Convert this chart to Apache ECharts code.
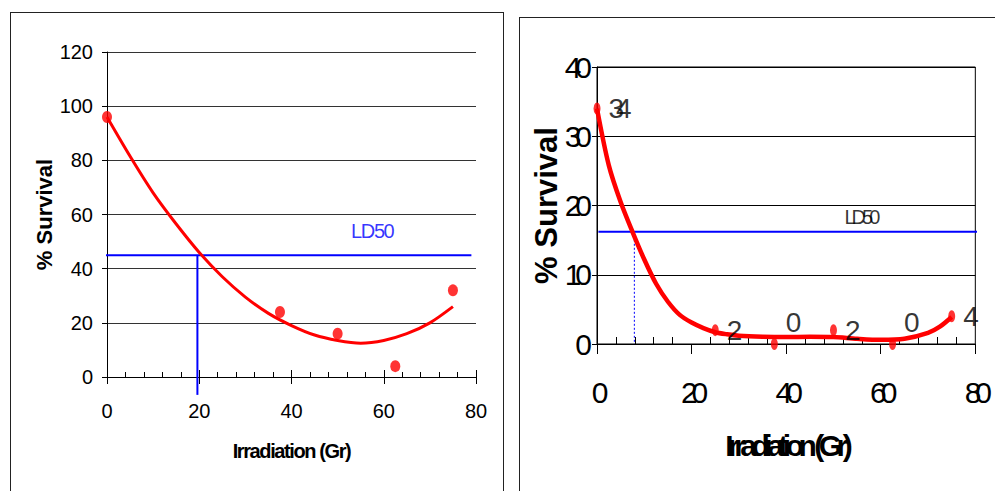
<!DOCTYPE html>
<html>
<head>
<meta charset="utf-8">
<script src="https://cdn.jsdelivr.net/npm/echarts@6/dist/echarts.min.js"></script>
<style>
  html, body { margin: 0; padding: 0; background: #fff; overflow: hidden; }
  .frame { position: absolute; box-sizing: border-box; border: 1px solid #222; }
  #chart { position: absolute; left: 0; top: 0; width: 995px; height: 491px; }
  /* the reference uses squeezed type; the svg text picks up tighter tracking by family tag */
  #chart text[style*="TightA"] { letter-spacing: -1.4px; }
  #chart text[style*="TightB"] { letter-spacing: -4px; }
  #chart text[style*="TightC"] { letter-spacing: -5.5px; }
  #chart text[style*="TightD"] { letter-spacing: -6px; }
  #chart text[style*="TightE"] { letter-spacing: -8px; }
</style>
</head>
<body>
<div class="frame" style="left:10px;top:12px;width:494px;height:600px"></div>
<div class="frame" style="left:519px;top:17px;width:600px;height:600px"></div>
<div id="chart"></div>
<script>
// left panel: measured survival and fitted curve
const leftDose = [0, 37.5, 50, 62.5, 75];
const leftSurvival = [96, 24, 16, 4, 32];
const leftFitDose = [0, 5, 10, 15, 20, 25, 30, 35, 40, 45, 50, 55, 60, 65, 70, 75];
const leftFitSurvival = [96, 81.5, 68, 56.5, 46, 37, 29.5, 23.5, 19, 15.5, 13.5, 12.5, 13.5, 16, 20, 26];
const leftLd50 = [19.6, 45];

// right panel
const rightDose = [0, 25, 37.5, 50, 62.5, 75];
const rightSurvival = [34, 2, 0, 2, 0, 4];
const rightFitDose = [0, 2.5, 5, 7.5, 10, 12.5, 15, 17.5, 20, 22.5, 25, 27.5, 30, 35, 40, 45, 50, 55, 60, 65, 70, 72.5, 75];
const rightFitSurvival = [34, 25.8, 20.5, 16.2, 12.2, 8.7, 6.1, 4.2, 3.1, 2.3, 1.7, 1.4, 1.2, 1.05, 1.0, 1.05, 1.0, 0.75, 0.6, 0.75, 1.6, 2.5, 3.9];
const rightLd50 = [7.9, 16.2];

const zip = (xs, ys) => xs.map((x, i) => [x, ys[i]]);
const sans = "'Liberation Sans', Arial, sans-serif";
const tight = (tag) => "'" + tag + "', 'Liberation Sans', Arial, sans-serif";

const chart = echarts.init(document.getElementById('chart'), null, { renderer: 'svg' });

chart.setOption({
  animation: false,
  grid: [
    { left: 107, top: 52, width: 369, height: 325 },
    { left: 597, top: 67, width: 385, height: 277, show: true, borderColor: '#000', borderWidth: 1, backgroundColor: 'transparent' }
  ],
  xAxis: [
    {
      gridIndex: 0, type: 'value', min: 0, max: 80, interval: 20, position: 'bottom',
      axisLine: { lineStyle: { color: '#000', width: 1 } },
      axisTick: { show: true, inside: false, length: 7, lineStyle: { color: '#000' } },
      axisLabel: { color: '#000', fontFamily: sans, fontSize: 20, margin: 24 },
      splitLine: { show: false },
      name: 'Irradiation (Gr)', nameLocation: 'middle', nameGap: 64,
      nameTextStyle: { color: '#000', fontFamily: tight('TightA'), fontSize: 20, fontWeight: 'bold' }
    },
    {
      gridIndex: 0, type: 'value', min: 0, max: 80, interval: 20, position: 'bottom',
      axisLine: { show: false },
      axisTick: { show: true, inside: true, length: 7, lineStyle: { color: '#000' } },
      minorTick: { show: true, splitNumber: 5, length: 5, lineStyle: { color: '#000' } },
      axisLabel: { show: false }, splitLine: { show: false }
    },
    {
      gridIndex: 1, type: 'value', min: 0, max: 80, interval: 20, position: 'bottom',
      axisLine: { lineStyle: { color: '#000', width: 1 } },
      axisTick: { show: true, inside: false, length: 10, lineStyle: { color: '#000' } },
      axisLabel: { color: '#000', fontFamily: tight('TightD'), fontSize: 30, margin: 33 },
      splitLine: { show: false },
      name: 'Irradiation (Gr)', nameLocation: 'middle', nameGap: 86,
      nameTextStyle: { color: '#000', fontFamily: tight('TightC'), fontSize: 30, fontWeight: 'bold' }
    },
    {
      gridIndex: 1, type: 'value', min: 0, max: 80, interval: 20, position: 'bottom',
      axisLine: { show: false },
      axisTick: { show: true, inside: true, length: 1, lineStyle: { color: '#000', opacity: 0 } },
      minorTick: { show: true, splitNumber: 5, length: 7, lineStyle: { color: '#000' } },
      axisLabel: { show: false }, splitLine: { show: false }
    }
  ],
  yAxis: [
    {
      gridIndex: 0, type: 'value', min: 0, max: 120, interval: 20,
      axisLine: { show: true, lineStyle: { color: '#000', width: 1 } },
      axisTick: { show: true, length: 5, lineStyle: { color: '#000' } },
      axisLabel: { color: '#000', fontFamily: sans, fontSize: 20, margin: 14 },
      splitLine: { show: true, lineStyle: { color: '#333', width: 1 } },
      name: '% Survival', nameLocation: 'middle', nameGap: 51,
      nameTextStyle: { color: '#000', fontFamily: sans, fontSize: 22, fontWeight: 'bold' }
    },
    {
      gridIndex: 1, type: 'value', min: 0, max: 40, interval: 10,
      axisLine: { show: true, lineStyle: { color: '#000', width: 1 } },
      axisTick: { show: true, length: 5, lineStyle: { color: '#000' } },
      axisLabel: { color: '#000', fontFamily: tight('TightD'), fontSize: 30, margin: 11 },
      splitLine: { show: true, lineStyle: { color: '#000', width: 1 } },
      name: '% Survival', nameLocation: 'middle', nameGap: 35, nameMoveOverlap: false,
      nameTextStyle: { color: '#000', fontFamily: sans, fontSize: 31, fontWeight: 'bold' }
    }
  ],
  series: [
    // left panel
    {
      type: 'line', xAxisIndex: 0, yAxisIndex: 0, data: zip(leftFitDose, leftFitSurvival),
      smooth: 0.3, symbol: 'none', lineStyle: { color: '#ff0000', width: 3 }, z: 3
    },
    {
      type: 'scatter', xAxisIndex: 0, yAxisIndex: 0, data: zip(leftDose, leftSurvival),
      symbol: 'circle', symbolSize: [10, 12], itemStyle: { color: '#ff0000' }, z: 4
    },
    {
      type: 'line', xAxisIndex: 0, yAxisIndex: 0, clip: false, symbol: 'none',
      data: [[-1, leftLd50[1]], [79, leftLd50[1]]], lineStyle: { color: '#0000ff', width: 2 }, z: 2
    },
    {
      type: 'line', xAxisIndex: 0, yAxisIndex: 0, clip: false, symbol: 'none',
      data: [[leftLd50[0], leftLd50[1]], [leftLd50[0], -6.6]], lineStyle: { color: '#0000ff', width: 2 }, z: 2
    },
    {
      type: 'scatter', xAxisIndex: 0, yAxisIndex: 0, data: [[57.5, 54]], symbolSize: 0, silent: true,
      label: { show: true, position: 'inside', formatter: 'LD50', color: '#0000ff', fontFamily: tight('TightA'), fontSize: 20 }
    },
    // right panel
    {
      type: 'line', xAxisIndex: 2, yAxisIndex: 1, data: zip(rightFitDose, rightFitSurvival),
      smooth: 0.3, symbol: 'none', lineStyle: { color: '#ff0000', width: 4.5 }, z: 3
    },
    {
      type: 'scatter', xAxisIndex: 2, yAxisIndex: 1, clip: false,
      data: zip(rightDose, rightSurvival).map(p => ({
        value: p,
        label: { offset: [0, p[1] === 0 ? -22 : 0] }
      })),
      symbol: 'circle', symbolSize: [7, 12], itemStyle: { color: '#ff0000' }, z: 4,
      label: {
        show: true, position: 'right', distance: 8, formatter: (p) => String(p.value[1]),
        color: '#000', fontFamily: tight('TightE'), fontSize: 28
      }
    },
    {
      type: 'line', xAxisIndex: 2, yAxisIndex: 1, clip: false, symbol: 'none',
      data: [[0.3, rightLd50[1]], [81, rightLd50[1]]], lineStyle: { color: '#0000ff', width: 2 }, z: 2
    },
    {
      type: 'line', xAxisIndex: 2, yAxisIndex: 1, clip: false, symbol: 'none',
      data: [[rightLd50[0], rightLd50[1]], [rightLd50[0], 0]], lineStyle: { color: '#0000ff', width: 1, type: [2, 2] }, z: 2
    },
    {
      type: 'scatter', xAxisIndex: 2, yAxisIndex: 1, data: [[55.7, 18.3]], symbolSize: 0, silent: true,
      label: { show: true, position: 'inside', formatter: 'LD50', color: '#000', fontFamily: tight('TightB'), fontSize: 20 }
    }
  ]
});
</script>
</body>
</html>
